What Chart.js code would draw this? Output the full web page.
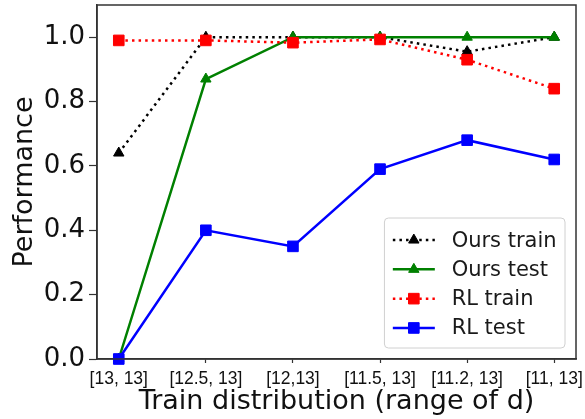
<!DOCTYPE html>
<html>
<head>
<meta charset="utf-8">
<script src="https://cdn.jsdelivr.net/npm/chart.js@4"></script>
<style>
  html, body { margin: 0; padding: 0; background: #fff; }
  #wrap { width: 585px; height: 419px; }
</style>
</head>
<body>
<div id="wrap"><canvas id="c" width="585" height="419"></canvas></div>
<script>
const categories = ['[13, 13]', '[12.5, 13]', '[12,13]', '[11.5, 13]', '[11.2, 13]', '[11, 13]'];
const oursTrain = [0.64, 1.0, 1.0, 1.0, 0.955, 1.0];
const oursTest  = [0.0, 0.87, 1.0, 1.0, 1.0, 1.0];
const rlTrain   = [0.99, 0.99, 0.983, 0.993, 0.93, 0.84];
const rlTest    = [0.0, 0.40, 0.35, 0.59, 0.68, 0.62];
const yTicks    = [0.0, 0.2, 0.4, 0.6, 0.8, 1.0];
const seriesNames = ['Ours train', 'Ours test', 'RL train', 'RL test'];

const toPts = arr => arr.map((v, i) => ({x: i, y: v}));
const DOT = [2.5, 4.1];

const series = [
  {data: oursTrain, color: '#000000', dash: DOT, marker: 'triangle', r: 6},
  {data: oursTest,  color: '#008000', dash: [], marker: 'triangle', r: 6},
  {data: rlTrain,   color: '#ff0000', dash: DOT, marker: 'rect', r: 7.5},
  {data: rlTest,    color: '#0000ff', dash: [], marker: 'rect', r: 7.5},
];

const datasets = series.map((s, i) => ({
  label: seriesNames[i],
  data: toPts(s.data),
  borderColor: s.color,
  backgroundColor: s.color,
  borderWidth: 2.5,
  borderDash: s.dash,
  borderCapStyle: 'butt',
  pointStyle: s.marker,
  pointRadius: s.r,
  pointHoverRadius: s.r,
  pointBorderWidth: 1,
  pointBackgroundColor: s.color,
  pointBorderColor: s.color,
  tension: 0,
  order: series.length - i,
  clip: false
}));

const framePlugin = {
  id: 'frame',
  afterDatasetsDraw(chart) {
    const {ctx, chartArea: a} = chart;
    ctx.save();
    ctx.strokeStyle = '#333';
    ctx.lineWidth = 1.5;
    ctx.strokeRect(a.left, a.top, a.right - a.left, a.bottom - a.top);
    ctx.restore();
  }
};

const legendPlugin = {
  id: 'mplLegend',
  afterDraw(chart) {
    const {ctx, chartArea: a} = chart;
    const fs = 21;
    ctx.save();
    ctx.font = fs + 'px "DejaVu Sans"';
    const textW = Math.max(...seriesNames.map(n => ctx.measureText(n).width));
    const pad = 0.4 * fs, handle = 2 * fs, gap = 0.8 * fs, rowH = 29.3;
    const w = pad + handle + gap + textW + pad;
    const h = pad * 2 + rowH * seriesNames.length - 4;
    const right = a.right - 11, bottom = a.bottom - 11;
    const left = right - w, top = bottom - h;
    ctx.beginPath();
    ctx.roundRect(left, top, w, h, 4);
    ctx.fillStyle = 'rgba(255,255,255,0.85)';
    ctx.fill();
    ctx.strokeStyle = '#d0d0d0';
    ctx.lineWidth = 1;
    ctx.stroke();
    chart.data.datasets.forEach((ds, i) => {
      const cy = top + pad + rowH * i + rowH / 2 - 1;
      const x0 = left + pad, x1 = x0 + handle;
      ctx.save();
      ctx.strokeStyle = ds.borderColor;
      ctx.lineWidth = ds.borderWidth;
      ctx.setLineDash(ds.borderDash);
      ctx.lineCap = 'butt';
      ctx.beginPath();
      ctx.moveTo(x0, cy);
      ctx.lineTo(x1, cy);
      ctx.stroke();
      ctx.restore();
      ctx.save();
      ctx.setLineDash([]);
      ctx.lineWidth = 1;
      ctx.fillStyle = ds.pointBackgroundColor;
      ctx.strokeStyle = ds.pointBorderColor;
      Chart.helpers.drawPoint(ctx, {
        pointStyle: ds.pointStyle, radius: ds.pointRadius, rotation: 0, borderWidth: 1
      }, (x0 + x1) / 2, cy);
      ctx.restore();
      ctx.fillStyle = '#1a1a1a';
      ctx.textBaseline = 'middle';
      ctx.textAlign = 'left';
      ctx.fillText(ds.label, x1 + gap, cy + 1);
    });
    ctx.restore();
  }
};

new Chart(document.getElementById('c'), {
  type: 'line',
  data: { datasets },
  options: {
    responsive: false,
    animation: false,
    devicePixelRatio: 1,
    layout: { autoPadding: false, padding: { top: 5, right: 9, left: 0, bottom: 0 } },
    plugins: { legend: { display: false }, tooltip: { enabled: false } },
    scales: {
      x: {
        type: 'linear',
        min: -0.25,
        max: 5.25,
        afterBuildTicks(scale) { scale.ticks = categories.map((_, i) => ({value: i})); },
        afterFit(scale) { scale.height = 60; scale.paddingLeft = 0; scale.paddingRight = 0; },
        ticks: {
          callback: v => categories[v],
          color: '#111',
          font: { family: '"Liberation Sans", Arial', size: 17.5 },
          padding: 6,
          maxRotation: 0,
          autoSkip: false
        },
        grid: { display: true, drawOnChartArea: false, drawTicks: true, tickLength: 4, tickColor: '#333', tickWidth: 1.2 },
        border: { display: true, color: '#333', width: 1.5 },
        title: {
          display: true,
          text: 'Train distribution (range of d)',
          color: '#111',
          font: { family: '"DejaVu Sans"', size: 27 },
          padding: { top: 0, bottom: 1 }
        }
      },
      y: {
        min: 0,
        max: 1.1,
        afterBuildTicks(scale) { scale.ticks = yTicks.map(v => ({value: v})); },
        afterFit(scale) { scale.width = 97; scale.paddingTop = 0; scale.paddingBottom = 0; },
        ticks: {
          callback: v => Number(v).toFixed(1),
          color: '#111',
          font: { family: '"DejaVu Sans"', size: 26 },
          padding: 4
        },
        grid: { display: true, drawOnChartArea: false, drawTicks: true, tickLength: 8, tickColor: '#333', tickWidth: 1.2 },
        border: { display: true, color: '#333', width: 1.5 },
        title: {
          display: true,
          text: 'Performance',
          color: '#111',
          font: { family: '"DejaVu Sans"', size: 27 },
          padding: { top: 9, bottom: 0 }
        }
      }
    }
  },
  plugins: [framePlugin, legendPlugin]
});
</script>
</body>
</html>
